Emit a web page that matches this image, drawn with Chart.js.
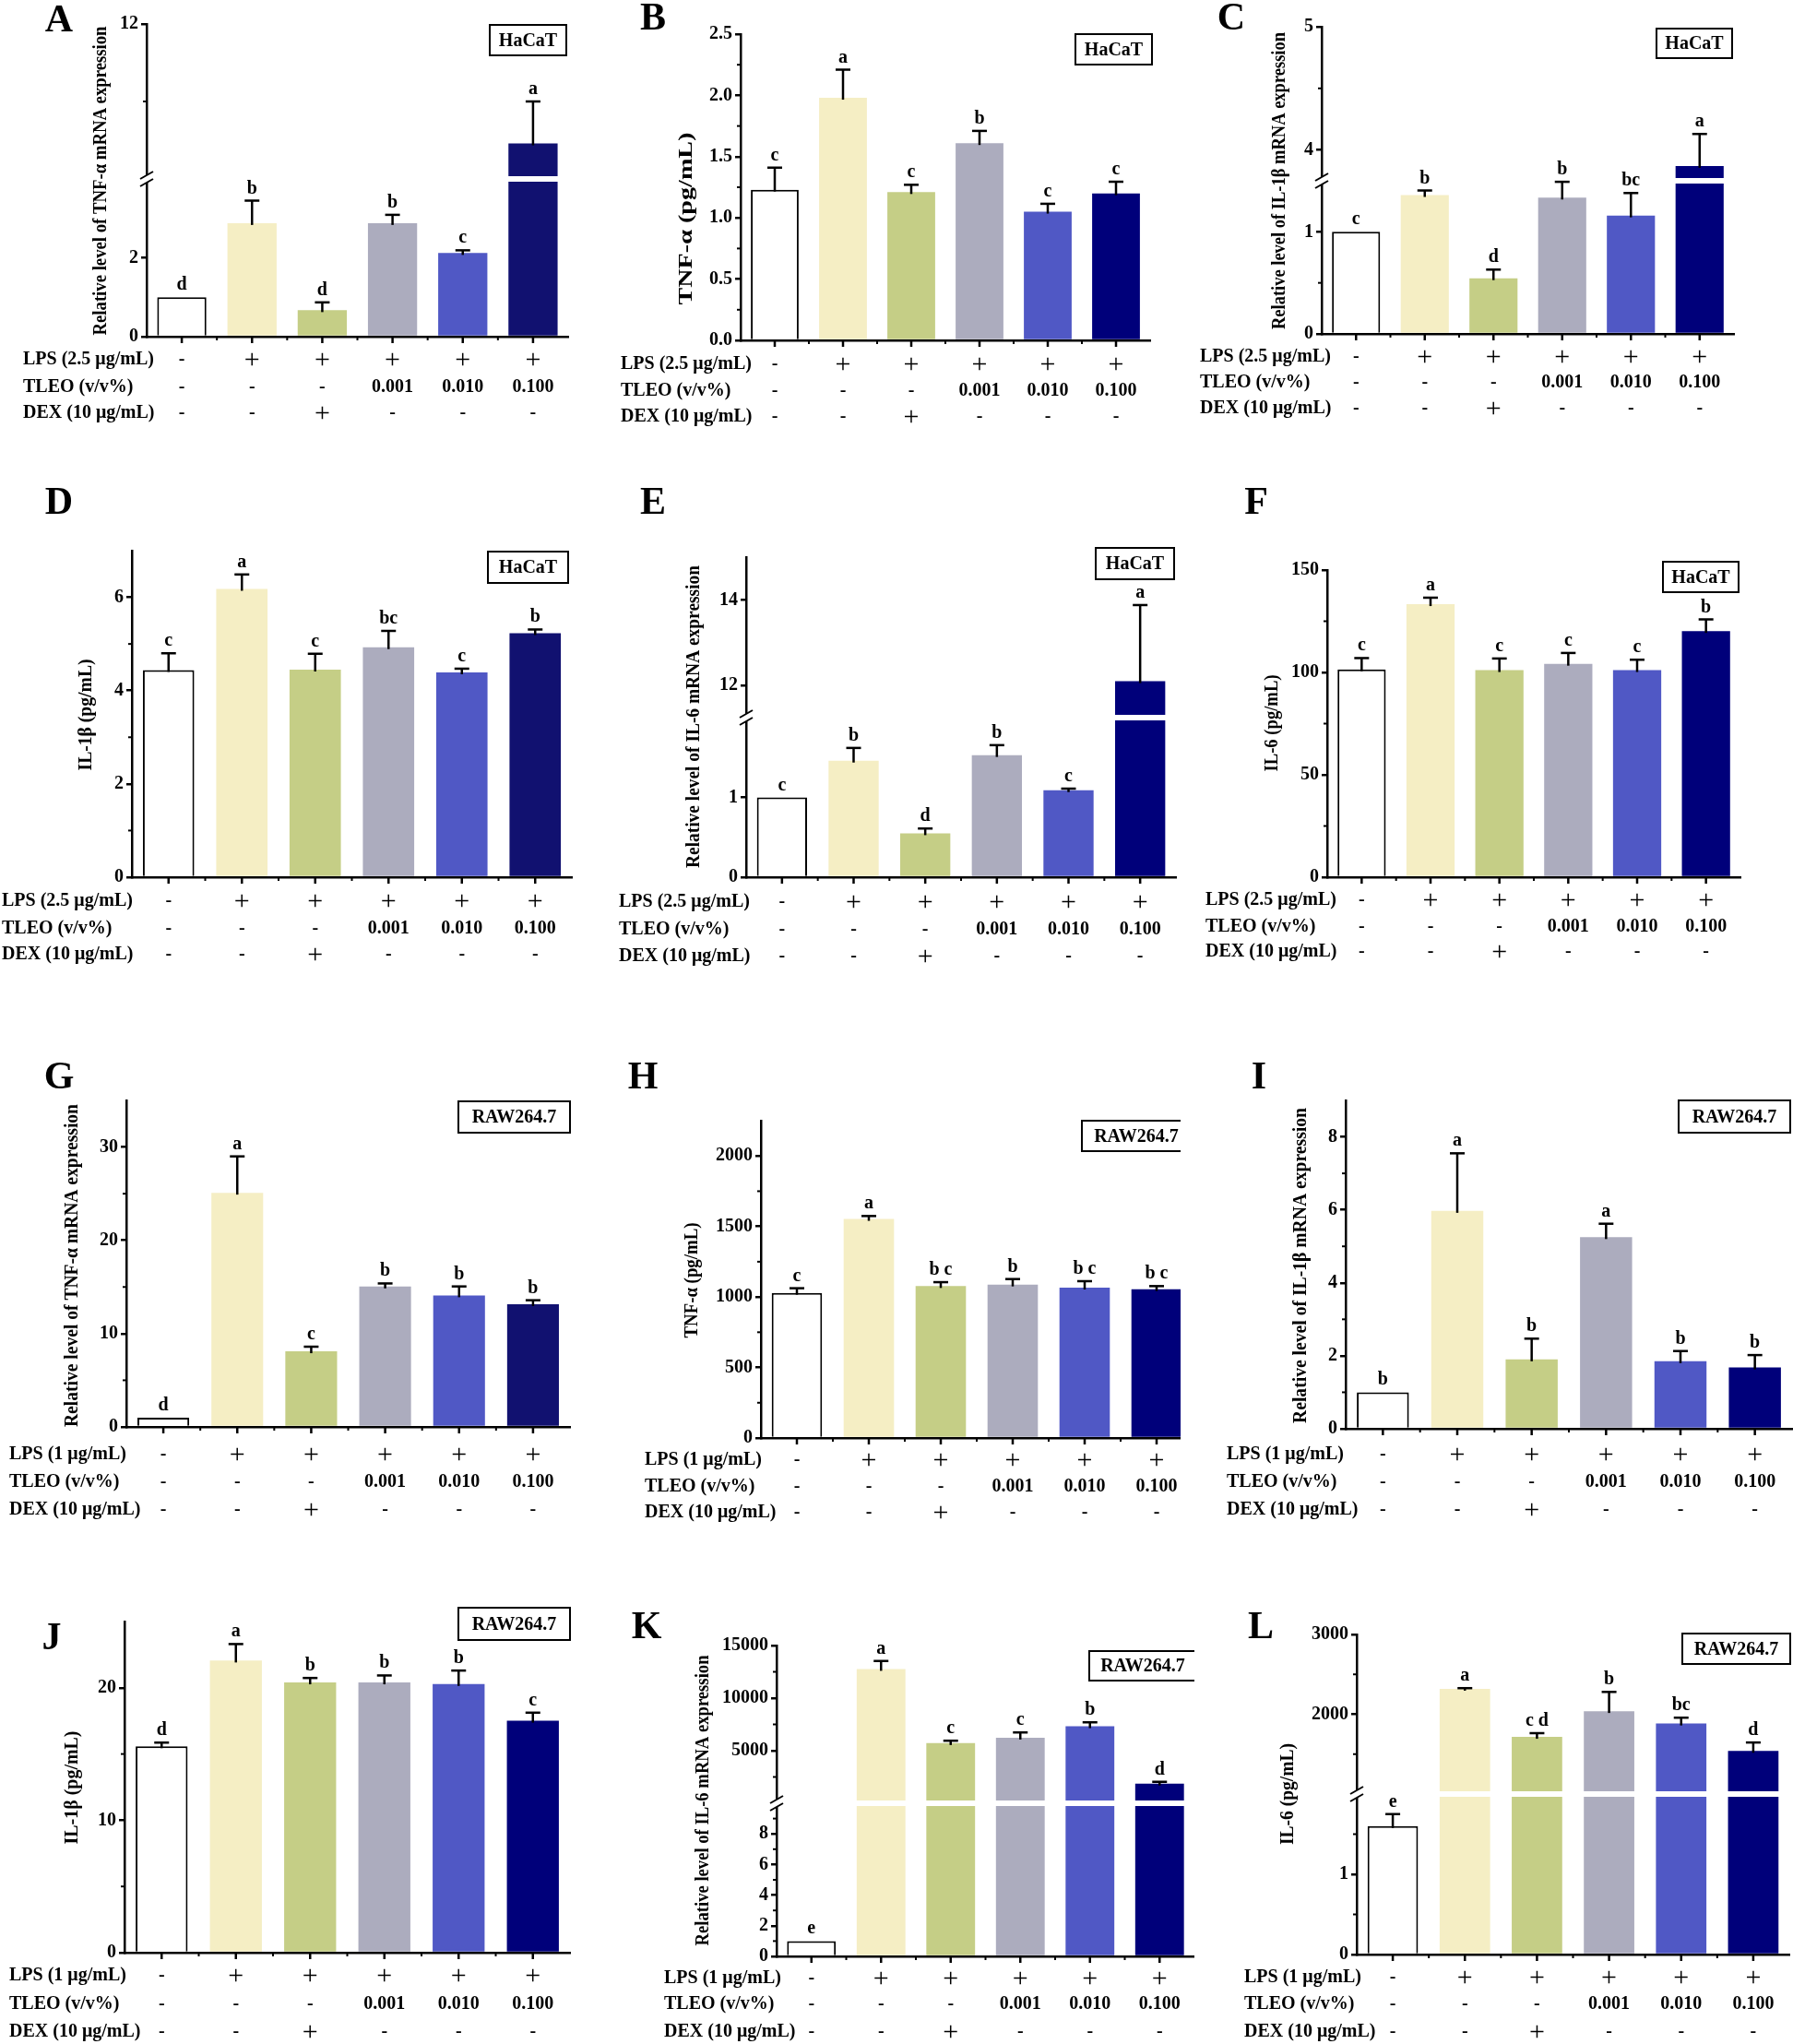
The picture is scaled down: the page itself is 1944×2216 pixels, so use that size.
<!DOCTYPE html>
<html>
<head>
<meta charset="utf-8">
<script src="https://cdn.jsdelivr.net/npm/chart.js@4.4.1/dist/chart.umd.min.js"></script>
<style>
html, body { margin: 0; padding: 0; background: #fff; }
body { width: 1944px; height: 2216px; position: relative; overflow: hidden; }
canvas { position: absolute; }
</style>
</head>
<body>
<script>
const SERIF = '"Liberation Serif", "Times New Roman", serif';
const AXIS_W = 70;

// treatment groups and the table under every panel
const groups = ['Control', 'LPS', 'LPS+DEX', 'LPS+TLEO 0.001', 'LPS+TLEO 0.010', 'LPS+TLEO 0.100'];
const lpsRow = ['-', '+', '+', '+', '+', '+'];
const tleoRow = ['-', '-', '-', '0.001', '0.010', '0.100'];
const dexRow = ['-', '-', '+', '-', '-', '-'];
const lpsHacatName = 'LPS (2.5 μg/mL)';
const lpsRawName = 'LPS (1 μg/mL)';
const tleoName = 'TLEO (v/v%)';
const dexName = 'DEX (10 μg/mL)';
const barFills = ['#ffffff', '#f5eec4', '#c5ce86', '#acacbe', '#5058c5'];

// A - HaCaT TNF-α mRNA
const aMean = [1.0, 2.88, 0.67, 2.88, 2.12, 5.83];
const aSd = [0, 0.57, 0.2, 0.21, 0.07, 2.17];
const aSig = ['d', 'b', 'd', 'b', 'c', 'a'];
const aTicksLow = [0, 2];
const aTicksHigh = [12];
// B - HaCaT TNF-α protein
const bMean = [1.23, 1.98, 1.21, 1.61, 1.05, 1.20];
const bSd = [0.18, 0.23, 0.06, 0.1, 0.065, 0.095];
const bSig = ['c', 'a', 'c', 'b', 'c', 'c'];
const bTicks = [0, 0.5, 1, 1.5, 2, 2.5];
// C - HaCaT IL-1β mRNA
const cMean = [1.0, 1.36, 0.545, 1.335, 1.16, 3.87];
const cSd = [0, 0.045, 0.085, 0.155, 0.22, 0.26];
const cSig = ['c', 'b', 'd', 'b', 'bc', 'a'];
const cTicksLow = [0, 1];
const cTicksHigh = [4, 5];
// D - HaCaT IL-1β protein
const dMean = [4.44, 6.18, 4.45, 4.93, 4.39, 5.23];
const dSd = [0.36, 0.31, 0.34, 0.35, 0.08, 0.08];
const dSig = ['c', 'a', 'c', 'bc', 'c', 'b'];
const dTicks = [0, 2, 4, 6];
// E - HaCaT IL-6 mRNA
const eMean = [1.0, 1.46, 0.55, 1.53, 1.09, 12.1];
const eSd = [0, 0.16, 0.06, 0.125, 0.02, 1.78];
const eSig = ['c', 'b', 'd', 'b', 'c', 'a'];
const eTicksLow = [0, 1];
const eTicksHigh = [12, 14];
// F - HaCaT IL-6 protein
const fMean = [101.5, 133.3, 101.1, 104.2, 101.1, 120.2];
const fSd = [5.5, 3.2, 5.7, 5.3, 5.1, 5.7];
const fSig = ['c', 'a', 'c', 'c', 'c', 'b'];
const fTicks = [0, 50, 100, 150];
// G - RAW264.7 TNF-α mRNA
const gMean = [1.0, 25.1, 8.1, 15.05, 14.1, 13.15];
const gSd = [0, 3.9, 0.5, 0.33, 0.96, 0.43];
const gSig = ['d', 'a', 'c', 'b', 'b', 'b'];
const gTicks = [0, 10, 20, 30];
// H - RAW264.7 TNF-α protein
const hMean = [1029, 1553, 1077, 1088, 1066, 1055];
const hSd = [33, 21, 28, 39, 46, 22];
const hSig = ['c', 'a', 'b c', 'b', 'b c', 'b c'];
const hTicks = [0, 500, 1000, 1500, 2000];
// I - RAW264.7 IL-1β mRNA
const iMean = [1.0, 5.97, 1.9, 5.25, 1.85, 1.68];
const iSd = [0, 1.58, 0.57, 0.37, 0.28, 0.34];
const iSig = ['b', 'a', 'b', 'a', 'b', 'b'];
const iTicks = [0, 2, 4, 6, 8];
// J - RAW264.7 IL-1β protein
const jMean = [15.58, 22.05, 20.4, 20.4, 20.28, 17.51];
const jSd = [0.28, 1.25, 0.34, 0.53, 1.02, 0.61];
const jSig = ['d', 'a', 'b', 'b', 'b', 'c'];
const jTicks = [0, 10, 20];
// K - RAW264.7 IL-6 mRNA
const kMean = [1.0, 12770, 5714, 6239, 7318, 1866];
const kSd = [0, 760, 234, 496, 380, 175];
const kSig = ['e', 'a', 'c', 'c', 'b', 'd'];
const kTicksLow = [0, 2, 4, 6, 8];
const kTicksHigh = [5000, 10000, 15000];
// L - RAW264.7 IL-6 protein
const lMean = [1.6, 2319, 1716, 2039, 1883, 1541];
const lSd = [0.15, 8, 47, 241, 74, 105];
const lSig = ['e', 'a', 'c d', 'b', 'bc', 'd'];
const lTicksLow = [0, 1];
const lTicksHigh = [2000, 3000];

const panels = [
  { id: 'A', mean: aMean, sd: aSd, sig: aSig, lps: lpsHacatName, cellLine: 'HaCaT', navy: '#111170',
    title: 'Relative level of TNF-α mRNA expression',
    low: { min: 0, max: 4, ticks: aTicksLow, minor: [] }, high: { min: 4, max: 12, ticks: aTicksHigh, minor: [8] },
    cell: [0, 0, 648, 470], axis: { left: 159, right: 616, top: 26, bottom: 365, cut: 194 },
    rows: [390, 420, 448], rowX: 25, titlePos: [110, 196, 335], tag: [64, 21], box: [531, 27, 614, 60] },
  { id: 'B', mean: bMean, sd: bSd, sig: bSig, lps: lpsHacatName, cellLine: 'HaCaT', navy: '#00007a',
    title: 'TNF-α (pg/mL)',
    low: { min: 0, max: 2.5, ticks: bTicks, minor: [0.25, 0.75, 1.25, 1.75, 2.25], digits: 1 },
    cell: [648, 0, 645, 470], axis: { left: 803, right: 1247, top: 37, bottom: 369 },
    rows: [395, 424, 452], rowX: 673, titlePos: [745, 237, 187], tag: [708, 19], box: [1166, 37, 1249, 70] },
  { id: 'C', mean: cMean, sd: cSd, sig: cSig, lps: lpsHacatName, cellLine: 'HaCaT', navy: '#00007a',
    title: 'Relative level of IL-1β mRNA expression',
    low: { min: 0, max: 1.5, ticks: cTicksLow, minor: [0.5] }, high: { min: 3.75, max: 5, ticks: cTicksHigh, minor: [4.5] },
    cell: [1293, 0, 651, 470], axis: { left: 1433, right: 1880, top: 29, bottom: 362, cut: 196 },
    rows: [387, 415, 443], rowX: 1301, titlePos: [1388, 196, 322], tag: [1335, 19], box: [1796, 31, 1878, 63] },
  { id: 'D', mean: dMean, sd: dSd, sig: dSig, lps: lpsHacatName, cellLine: 'HaCaT', navy: '#111170',
    title: 'IL-1β (pg/mL)',
    low: { min: 0, max: 7, ticks: dTicks, minor: [1, 3, 5] },
    cell: [0, 515, 648, 545], axis: { left: 143, right: 620, top: 597, bottom: 951 },
    rows: [977, 1007, 1035], rowX: 2, titlePos: [94, 775, 121], tag: [64, 544], box: [529, 598, 616, 632] },
  { id: 'E', mean: eMean, sd: eSd, sig: eSig, lps: lpsHacatName, cellLine: 'HaCaT', navy: '#00007a',
    title: 'Relative level of IL-6 mRNA expression',
    low: { min: 0, max: 2, ticks: eTicksLow, minor: [] }, high: { min: 11.25, max: 15, ticks: eTicksHigh, minor: [] },
    cell: [648, 515, 645, 545], axis: { left: 809, right: 1275, top: 604, bottom: 951, cut: 778 },
    rows: [978, 1008, 1037], rowX: 671, titlePos: [753, 777, 328], tag: [708, 544], box: [1188, 594, 1273, 628] },
  { id: 'F', mean: fMean, sd: fSd, sig: fSig, lps: lpsHacatName, cellLine: 'HaCaT', navy: '#00007a',
    title: 'IL-6 (pg/mL)',
    low: { min: 0, max: 150, ticks: fTicks, minor: [25, 75, 125] },
    cell: [1293, 515, 651, 545], axis: { left: 1439, right: 1887, top: 618, bottom: 951 },
    rows: [976, 1005, 1032], rowX: 1307, titlePos: [1380, 784, 105], tag: [1362, 544], box: [1803, 609, 1885, 642] },
  { id: 'G', mean: gMean, sd: gSd, sig: gSig, lps: lpsRawName, cellLine: 'RAW264.7', navy: '#111170',
    title: 'Relative level of TNF-α mRNA expression',
    low: { min: 0, max: 35, ticks: gTicks, minor: [5, 15, 25] },
    cell: [0, 1130, 648, 535], axis: { left: 137, right: 618, top: 1193, bottom: 1547 },
    rows: [1577, 1607, 1637], rowX: 10, titlePos: [79, 1372, 350], tag: [64, 1167], box: [497, 1194, 618, 1228] },
  { id: 'H', mean: hMean, sd: hSd, sig: hSig, lps: lpsRawName, cellLine: 'RAW264.7', navy: '#00007a',
    title: 'TNF-α (pg/mL)',
    low: { min: 0, max: 2250, ticks: hTicks, minor: [250, 750, 1250, 1750] },
    cell: [648, 1130, 645, 535], clipRight: 13, axis: { left: 825, right: 1293, top: 1215, bottom: 1559 },
    rows: [1583, 1612, 1640], rowX: 699, titlePos: [751, 1388, 125], tag: [697, 1167], box: [1173, 1215, 1291, 1248] },
  { id: 'I', mean: iMean, sd: iSd, sig: iSig, lps: lpsRawName, cellLine: 'RAW264.7', navy: '#00007a',
    title: 'Relative level of IL-1β mRNA expression',
    low: { min: 0, max: 9, ticks: iTicks, minor: [1, 3, 5, 7] },
    cell: [1293, 1130, 651, 535], axis: { left: 1459, right: 1943, top: 1193, bottom: 1549 },
    rows: [1577, 1607, 1637], rowX: 1330, titlePos: [1411, 1372, 342], tag: [1365, 1167], box: [1820, 1193, 1941, 1228] },
  { id: 'J', mean: jMean, sd: jSd, sig: jSig, lps: lpsRawName, cellLine: 'RAW264.7', navy: '#00007a',
    title: 'IL-1β (pg/mL)',
    low: { min: 0, max: 25, ticks: jTicks, minor: [5, 15] },
    cell: [0, 1730, 648, 486], axis: { left: 135, right: 618, top: 1758, bottom: 2117 },
    rows: [2142, 2173, 2203], rowX: 10, titlePos: [79, 1938, 123], tag: [56, 1775], box: [497, 1743, 618, 1778] },
  { id: 'K', mean: kMean, sd: kSd, sig: kSig, lps: lpsRawName, cellLine: 'RAW264.7', navy: '#00007a',
    title: 'Relative level of IL-6 mRNA expression',
    low: { min: 0, max: 10, ticks: kTicksLow, minor: [1, 3, 5, 7, 9] }, high: { min: 0, max: 15000, ticks: kTicksHigh, minor: [2500, 7500, 12500] },
    cell: [648, 1730, 647, 486], axis: { left: 842, right: 1295, top: 1784, bottom: 2121, cut: 1955 },
    rows: [2145, 2173, 2203], rowX: 720, titlePos: [763, 1952, 315], tag: [701, 1763], box: [1181, 1790, 1297, 1822] },
  { id: 'L', mean: lMean, sd: lSd, sig: lSig, lps: lpsRawName, cellLine: 'RAW264.7', navy: '#00007a',
    title: 'IL-6 (pg/mL)',
    low: { min: 0, max: 2, ticks: lTicksLow, minor: [0.5, 1.5] }, high: { min: 1000, max: 3000, ticks: lTicksHigh, minor: [1500, 2500] },
    cell: [1293, 1730, 651, 486], axis: { left: 1471, right: 1940, top: 1772, bottom: 2119, cut: 1945 },
    rows: [2144, 2173, 2203], rowX: 1349, titlePos: [1397, 1945, 110], tag: [1367, 1763], box: [1824, 1771, 1941, 1804] }
];

function line(ctx, x1, y1, x2, y2) {
  ctx.beginPath();
  ctx.moveTo(x1, y1);
  ctx.lineTo(x2, y2);
  ctx.stroke();
}

function yScale(seg, extra) {
  return Object.assign({
    type: 'linear',
    position: 'left',
    min: seg.min,
    max: seg.max,
    bounds: 'data',
    afterFit: s => { s.width = AXIS_W; },
    afterBuildTicks: s => { s.ticks = seg.ticks.map(v => ({ value: v })); },
    ticks: {
      color: '#000',
      padding: 3,
      autoSkip: false,
      font: { family: SERIF, size: 20, weight: 'bold' },
      callback: v => seg.digits ? v.toFixed(seg.digits) : String(v)
    },
    grid: { drawOnChartArea: false, drawTicks: true, tickLength: 6, color: '#000', lineWidth: 2.5 },
    border: { display: true, color: '#000', width: 2.5 }
  }, extra);
}

function extras(p) {
  return {
    id: 'extras' + p.id,
    afterDraw(chart) {
      const ctx = chart.ctx;
      const ox = p.cell[0], oy = p.cell[1];
      const xs = chart.scales.x, ys = chart.scales.y, ys2 = chart.scales.y2;
      const area = chart.chartArea;
      ctx.save();
      ctx.strokeStyle = '#000';
      ctx.fillStyle = '#000';

      // minor y ticks
      ctx.lineWidth = 2;
      p.low.minor.forEach(v => { const y = ys.getPixelForValue(v); line(ctx, area.left - 4, y, area.left, y); });
      if (ys2) p.high.minor.forEach(v => { const y = ys2.getPixelForValue(v); line(ctx, area.left - 4, y, area.left, y); });

      // x ticks: long at groups, short between them
      const centers = groups.map((g, i) => xs.getPixelForValue(i));
      ctx.lineWidth = 2.5;
      centers.forEach(x => line(ctx, x, area.bottom, x, area.bottom + 7));
      ctx.lineWidth = 2;
      for (let i = 0; i < centers.length - 1; i++) {
        const x = (centers[i] + centers[i + 1]) / 2;
        line(ctx, x, area.bottom, x, area.bottom + 4);
      }

      // axis break
      if (ys2) {
        const b = ys.top;
        ctx.fillStyle = '#fff';
        ctx.fillRect(area.left + 2, b - 3, area.right - area.left, 6);
        ctx.fillRect(area.left - 3, b - 4, 6, 8);
        ctx.fillStyle = '#000';
        ctx.lineWidth = 2;
        [-4, 4].forEach(d => line(ctx, area.left - 7, b + d + 4, area.left + 7, b + d - 4));
      }

      // error bars and letters
      p.mean.forEach((v, i) => {
        const s = ys2 && v > p.low.max ? ys2 : ys;
        const x = centers[i];
        const yTop = s.getPixelForValue(v);
        let yEnd = yTop;
        if (p.sd[i] > 0) {
          yEnd = s.getPixelForValue(v + p.sd[i]);
          ctx.lineWidth = 2.5;
          line(ctx, x, yTop + 2, x, yEnd);
          line(ctx, x - 8, yEnd, x + 8, yEnd);
        }
        ctx.font = 'bold 20px ' + SERIF;
        ctx.textAlign = 'center';
        ctx.textBaseline = 'alphabetic';
        ctx.fillText(p.sig[i], x, yEnd - 8);
      });

      // treatment table
      const rows = [[p.lps, lpsRow], [tleoName, tleoRow], [dexName, dexRow]];
      ctx.textBaseline = 'middle';
      rows.forEach((r, k) => {
        const y = p.rows[k] - oy;
        ctx.textAlign = 'left';
        ctx.font = 'bold 20px ' + SERIF;
        ctx.fillText(r[0], p.rowX - ox, y);
        ctx.textAlign = 'center';
        r[1].forEach((t, i) => {
          ctx.font = t === '+' ? '30px ' + SERIF : 'bold 20px ' + SERIF;
          ctx.fillText(t, centers[i], t === '+' ? y + 1 : y);
        });
      });

      // cell line box
      const bx = p.box;
      ctx.lineWidth = 2;
      ctx.strokeRect(bx[0] - ox, bx[1] - oy, bx[2] - bx[0], bx[3] - bx[1]);
      ctx.font = 'bold 20px ' + SERIF;
      ctx.fillText(p.cellLine, (bx[0] + bx[2]) / 2 - ox, (bx[1] + bx[3]) / 2 - oy + 1);

      // panel letter
      ctx.font = 'bold 42px ' + SERIF;
      ctx.fillText(p.id, p.tag[0] - ox, p.tag[1] - oy + 2);

      // y title, stretched to the length seen in the figure
      ctx.font = 'bold 20px ' + SERIF;
      const w = ctx.measureText(p.title).width;
      ctx.translate(p.titlePos[0] - ox, p.titlePos[1] - oy);
      ctx.rotate(-Math.PI / 2);
      ctx.scale(p.titlePos[2] / w, 1);
      ctx.fillText(p.title, 0, 0);
      ctx.restore();
    }
  };
}

function build(p) {
  const cv = document.createElement('canvas');
  cv.width = p.cell[2];
  cv.height = p.cell[3];
  cv.style.left = p.cell[0] + 'px';
  cv.style.top = p.cell[1] + 'px';
  if (p.clipRight) cv.style.clipPath = 'inset(0 ' + p.clipRight + 'px 0 0)';
  document.body.appendChild(cv);

  const colors = barFills.concat([p.navy]);
  const common = {
    barPercentage: 0.7,
    categoryPercentage: 1,
    grouped: false,
    borderSkipped: 'start',
    backgroundColor: colors
  };
  const datasets = [Object.assign({}, common, {
    data: p.mean.map(v => [p.low.min, Math.min(v, p.low.max)]),
    yAxisID: 'y',
    borderColor: '#000',
    borderWidth: p.mean.map((v, i) => i === 0 ? 2 : 0)
  })];
  const scales = {
    x: {
      type: 'category',
      offset: true,
      afterFit: s => { s.height = 0; },
      grid: { display: false },
      ticks: { display: false },
      border: { display: true, color: '#000', width: 2.5 }
    },
    y: yScale(p.low, p.high ? { stack: 'v', stackWeight: p.axis.bottom - p.axis.cut } : {})
  };
  if (p.high) {
    datasets.push(Object.assign({}, common, {
      data: p.mean.map(v => v > p.low.max ? [p.high.min, v] : null),
      yAxisID: 'y2',
      borderWidth: 0
    }));
    scales.y2 = yScale(p.high, { stack: 'v', stackWeight: p.axis.cut - p.axis.top });
  }

  new Chart(cv.getContext('2d'), {
    type: 'bar',
    data: { labels: groups, datasets: datasets },
    options: {
      responsive: false,
      animation: false,
      devicePixelRatio: 1,
      events: [],
      layout: {
        padding: {
          left: p.axis.left - p.cell[0] - AXIS_W,
          right: p.cell[0] + p.cell[2] - p.axis.right,
          top: p.axis.top - p.cell[1],
          bottom: p.cell[1] + p.cell[3] - p.axis.bottom
        }
      },
      plugins: { legend: { display: false }, tooltip: { enabled: false } },
      scales: scales
    },
    plugins: [extras(p)]
  });
}

panels.forEach(build);
</script>
</body>
</html>
